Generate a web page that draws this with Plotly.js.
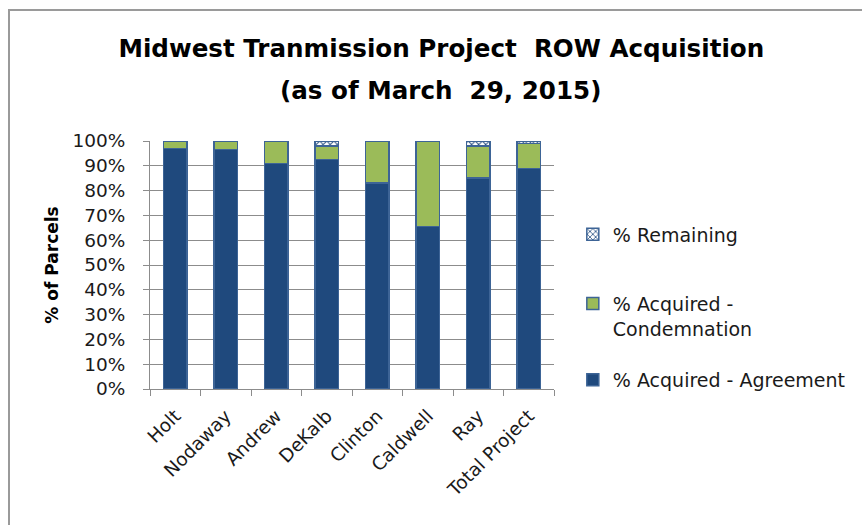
<!DOCTYPE html>
<html>
<head>
<meta charset="utf-8">
<script src="https://cdn.plot.ly/plotly-3.0.1.min.js"></script>
<style>
  html, body { margin: 0; padding: 0; background: #fff; }
  #wrap { position: relative; width: 862px; height: 525px; overflow: hidden; }
  #chart { width: 862px; height: 525px; }
  #frame { position: absolute; left: 8px; top: 9px; width: 900px; height: 600px;
           border-left: 2px solid #9a9a9a; border-top: 2px solid #9a9a9a; pointer-events: none; }
</style>
</head>
<body>
<div id="wrap">
  <div id="chart"></div>
  <div id="frame"></div>
</div>
<script>
const categories = ["Holt", "Nodaway", "Andrew", "DeKalb", "Clinton", "Caldwell", "Ray", "Total Project"];
const acquiredAgreement = [0.97, 0.965, 0.91, 0.925, 0.83, 0.655, 0.85, 0.89];
const acquiredCondemnation = [0.03, 0.035, 0.09, 0.055, 0.17, 0.345, 0.13, 0.10];
const remaining = [0.00, 0.00, 0.00, 0.02, 0.00, 0.00, 0.02, 0.01];
const yTickVals = [0, 0.1, 0.2, 0.3, 0.4, 0.5, 0.6, 0.7, 0.8, 0.9, 1.0];
const yTickText = ["0%", "10%", "20%", "30%", "40%", "50%", "60%", "70%", "80%", "90%", "100%"];
const titleLine1 = "Midwest Tranmission Project&nbsp; ROW Acquisition";
const titleLine2 = "(as of March&nbsp; 29, 2015)";

const FONT = "'DejaVu Sans', Verdana, sans-serif";
const lineStyle = { color: "#3d6496", width: 1.5 };

const traces = [
  {
    type: "bar", name: "% Acquired - Agreement", x: categories, y: acquiredAgreement,
    marker: { color: "#1F497D", line: lineStyle }, legend: "legend3"
  },
  {
    type: "bar", name: "% Acquired -<br>Condemnation", x: categories, y: acquiredCondemnation,
    marker: { color: "#9BBB59", line: lineStyle }, legend: "legend2"
  },
  {
    type: "bar", name: "% Remaining", x: categories, y: remaining,
    marker: { color: "#ffffff", line: lineStyle,
              pattern: { shape: "x", fgcolor: "#1F497D", bgcolor: "#ffffff", size: 5, solidity: 0.35 } },
    legend: "legend"
  }
];

const legendBase = {
  xref: "paper", yref: "paper", xanchor: "left", yanchor: "top",
  bgcolor: "rgba(0,0,0,0)", font: { family: FONT, size: 19, color: "#1a1a1a" },
  itemwidth: 30, valign: "top"
};

const layout = {
  width: 862, height: 525,
  paper_bgcolor: "#ffffff", plot_bgcolor: "#ffffff",
  margin: { l: 150, r: 307, t: 141, b: 136 },
  barmode: "stack", bargap: 0.54,
  font: { family: FONT, size: 18.5, color: "#1a1a1a" },
  title: {
    text: "<b>" + titleLine1 + "</b>",
    font: { family: FONT, size: 24.6, color: "#000" },
    x: 0.512, xref: "container", xanchor: "center",
    y: 0.9086, yref: "container", yanchor: "middle"
  },
  annotations: [{
    text: "<b>" + titleLine2 + "</b>", showarrow: false,
    xref: "paper", yref: "paper", x: 0.7185, y: 1.2056, xanchor: "center", yanchor: "middle",
    font: { family: FONT, size: 24.6, color: "#000" }
  }],
  xaxis: {
    type: "category", tickangle: -45, showgrid: false,
    showline: true, linecolor: "#8c8c8c", linewidth: 1,
    ticks: "outside", tickson: "boundaries", ticklen: 6, tickcolor: "#8c8c8c",
    ticklabelstandoff: 8,
    tickfont: { family: FONT, size: 18.5, color: "#1a1a1a" }
  },
  yaxis: {
    range: [0, 1], tickvals: yTickVals, ticktext: yTickText,
    showgrid: true, gridcolor: "#8c8c8c", gridwidth: 1,
    showline: true, linecolor: "#8c8c8c", linewidth: 1,
    ticks: "outside", ticklen: 6, tickcolor: "#8c8c8c", ticklabelstandoff: 14,
    tickfont: { family: FONT, size: 18.5, color: "#1a1a1a" },
    zeroline: false,
    title: { text: "<b>% of Parcels</b>", font: { family: FONT, size: 17, color: "#000" }, standoff: 9 }
  },
  legend: Object.assign({}, legendBase, { x: 1.044, y: 0.70 }),
  legend2: Object.assign({}, legendBase, { x: 1.044, y: 0.421 }),
  legend3: Object.assign({}, legendBase, { x: 1.044, y: 0.113 }),
  showlegend: true
};

Plotly.newPlot("chart", traces, layout, { displayModeBar: false, staticPlot: true });
</script>
</body>
</html>
